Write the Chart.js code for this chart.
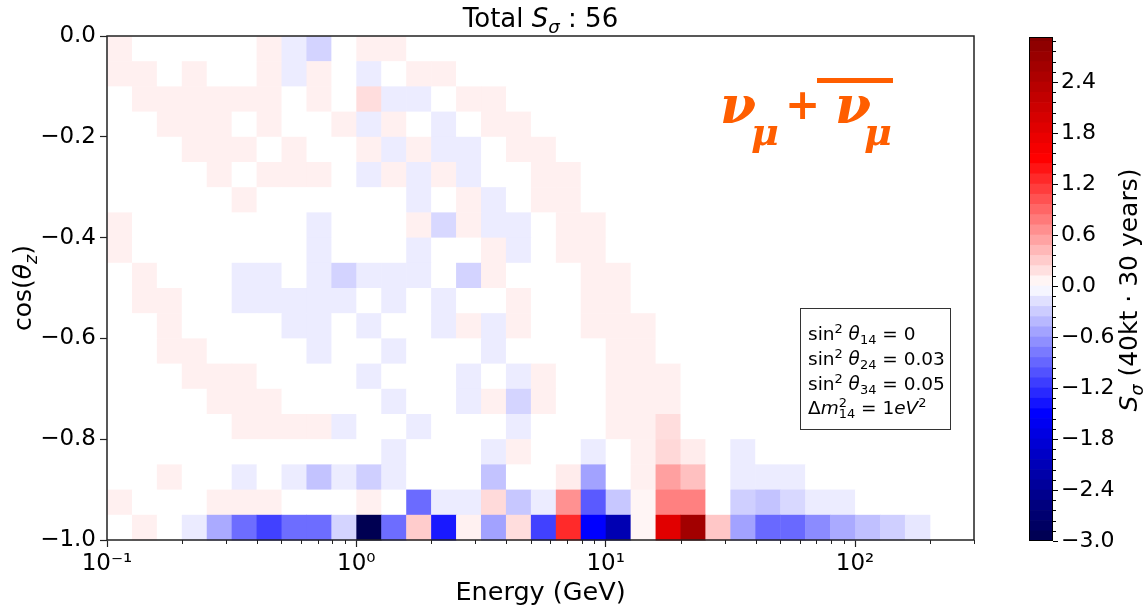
<!DOCTYPE html>
<html>
<head>
<meta charset="utf-8">
<script src="https://cdn.jsdelivr.net/npm/chart.js@4.4.0/dist/chart.umd.min.js"></script>
<style>
  html, body { margin: 0; padding: 0; background: #fff; }
  #wrap { position: relative; width: 1148px; height: 608px; }
  #c1 { position: absolute; left: 0; top: 0; }
  #c2 { position: absolute; left: 990px; top: 0; }
</style>
</head>
<body>
<div id="wrap">
  <canvas id="c1" width="990" height="608"></canvas>
  <canvas id="c2" width="158" height="608"></canvas>
</div>
<script>
// Bin edges (energy in GeV, log bins) and cos(theta_z) bins
const energyEdges = [0.1, 0.1259, 0.1585, 0.1995, 0.2512, 0.3162, 0.3981, 0.5012, 0.631, 0.7943,
  1.0, 1.259, 1.585, 1.995, 2.512, 3.162, 3.981, 5.012, 6.31, 7.943,
  10, 12.59, 15.85, 19.95, 25.12, 31.62, 39.81, 50.12, 63.1, 79.43,
  100, 125.9, 158.5, 199.5];
const cosEdges = [0, -0.05, -0.1, -0.15, -0.2, -0.25, -0.3, -0.35, -0.4, -0.45, -0.5,
  -0.55, -0.6, -0.65, -0.7, -0.75, -0.8, -0.85, -0.9, -0.95, -1.0];

// S_sigma per cell, one array per cos row (top row first), one value per energy bin
const row00 = [0.09,0,0,0,0,0,0.09,-0.11,-0.26,0,0.09,0.09,0,0,0,0,0,0,0,0,0,0,0,0,0,0,0,0,0,0,0,0,0];
const row01 = [0.09,0.09,0,0.09,0,0,0.09,-0.11,0.09,0,-0.11,0,0.09,0.09,0,0,0,0,0,0,0,0,0,0,0,0,0,0,0,0,0,0,0];
const row02 = [0,0.09,0.09,0.09,0.09,0.09,0.09,0,0.09,0,0.2,-0.11,-0.11,0,0.09,0.09,0,0,0,0,0,0,0,0,0,0,0,0,0,0,0,0,0];
const row03 = [0,0,0.09,0.09,0.09,0,0.09,0,0,0.09,-0.11,0.09,0,-0.11,0,0.09,0.09,0,0,0,0,0,0,0,0,0,0,0,0,0,0,0,0];
const row04 = [0,0,0,0.09,0.09,0.09,0,0.09,0,0,0.09,-0.11,0.09,-0.11,-0.11,0,0.09,0.09,0,0,0,0,0,0,0,0,0,0,0,0,0,0,0];
const row05 = [0,0,0,0,0.09,0,0.09,0.09,0.09,0,-0.11,0.09,-0.11,0.09,-0.11,0,0,0.09,0.09,0,0,0,0,0,0,0,0,0,0,0,0,0,0];
const row06 = [0,0,0,0,0,0.09,0,0,0,0,0,0,-0.11,0,0.09,-0.11,0,0.09,0.09,0,0,0,0,0,0,0,0,0,0,0,0,0,0];
const row07 = [0.09,0,0,0,0,0,0,0,-0.11,0,0,0,0.09,-0.23,0.09,-0.11,-0.11,0,0.09,0.09,0,0,0,0,0,0,0,0,0,0,0,0,0];
const row08 = [0.09,0,0,0,0,0,0,0,-0.11,0,0,0,-0.11,0,0,0.09,-0.11,0,0.09,0.09,0,0,0,0,0,0,0,0,0,0,0,0,0];
const row09 = [0,0.09,0,0,0,-0.11,-0.11,0,-0.11,-0.26,-0.11,-0.11,-0.11,0,-0.26,0.09,0,0,0,0.09,0.09,0,0,0,0,0,0,0,0,0,0,0,0];
const row10 = [0,0.09,0.09,0,0,-0.11,-0.11,-0.11,-0.11,-0.11,0,-0.11,0,-0.11,0,0,0.09,0,0,0.09,0.09,0,0,0,0,0,0,0,0,0,0,0,0];
const row11 = [0,0,0.09,0,0,0,0,-0.11,-0.11,0,-0.11,0,0,-0.11,0.09,-0.11,0.09,0,0,0.09,0.09,0.09,0,0,0,0,0,0,0,0,0,0,0];
const row12 = [0,0,0.09,0.09,0,0,0,0,-0.11,0,0,-0.11,0,0,0,-0.11,0,0,0,0,0.09,0.09,0,0,0,0,0,0,0,0,0,0,0];
const row13 = [0,0,0,0.09,0.09,0.09,0,0,0,0,-0.11,0,0,0,-0.11,0,-0.11,0.09,0,0,0.09,0.09,0.09,0,0,0,0,0,0,0,0,0,0];
const row14 = [0,0,0,0,0.09,0.09,0.09,0,0,0,0,-0.11,0,0,-0.11,0.09,-0.25,0.09,0,0,0.09,0.09,0.09,0,0,0,0,0,0,0,0,0,0];
const row15 = [0,0,0,0,0,0.09,0.09,0.09,0.09,-0.11,0,0,-0.11,0,0,0,-0.11,0,0,0,0.09,0.09,0.2,0,0,0,0,0,0,0,0,0,0];
const row16 = [0,0,0,0,0,0,0,0,0,0,0,-0.11,0,0,0,-0.11,0.09,0,0,-0.11,0,0.09,0.23,0.11,0,-0.11,0,0,0,0,0,0,0];
const row17 = [0,0,0.09,0,0,-0.11,0,-0.11,-0.35,-0.11,-0.28,-0.11,0,0,0,-0.35,0,0,0.11,-0.55,0,0.09,0.56,0.37,0,-0.11,-0.11,-0.11,0,0,0,0,0];
const row18 = [0.09,0,0,0,0.09,0.09,0.09,0,0,0,0.09,0,-0.87,-0.11,-0.11,0.22,-0.33,-0.11,0.65,-0.97,-0.33,0.06,0.75,0.75,0,-0.28,-0.35,-0.23,-0.11,-0.11,0,0,0];
const row19 = [0,0.09,0,-0.12,-0.5,-0.86,-1.12,-0.86,-0.86,-0.25,-2.95,-0.86,0.3,-1.35,0.08,-0.55,0.2,-1.12,1.25,-1.5,-2.15,0.06,1.85,2.6,0.33,-0.55,-0.88,-0.88,-0.68,-0.5,-0.37,-0.28,-0.14];
const grid = [row00, row01, row02, row03, row04, row05, row06, row07, row08, row09,
  row10, row11, row12, row13, row14, row15, row16, row17, row18, row19];

// Axis ticks
const xTickValues = [0.1, 1, 10, 100];
const xTickLabels = ['10\u207B\u00B9', '10\u2070', '10\u00B9', '10\u00B2'];
const xMinorValues = [0.2, 0.3, 0.4, 0.5, 0.6, 0.7, 0.8, 0.9, 2, 3, 4, 5, 6, 7, 8, 9,
  20, 30, 40, 50, 60, 70, 80, 90, 200, 300];
const cbarTicks = [-3.0, -2.4, -1.8, -1.2, -0.6, 0.0, 0.6, 1.2, 1.8, 2.4];
const cbarStep = 0.12;
const CMIN = -3, CMAX = 3;

const FONT = '"DejaVu Sans", sans-serif';
Chart.defaults.font.family = FONT;
Chart.defaults.color = '#000';

// matplotlib "seismic" colormap
function seismic(v) {
  let t = (v - CMIN) / (CMAX - CMIN);
  t = Math.max(0, Math.min(1, t));
  let r, g, b;
  if (t < 0.25) { const s = t / 0.25; r = 0; g = 0; b = 0.3 + 0.7 * s; }
  else if (t < 0.5) { const s = (t - 0.25) / 0.25; r = s; g = s; b = 1; }
  else if (t < 0.75) { const s = (t - 0.5) / 0.25; r = 1; g = 1 - s; b = 1 - s; }
  else { const s = (t - 0.75) / 0.25; r = 1 - 0.5 * s; g = 0; b = 0; }
  return 'rgb(' + Math.round(r * 255) + ',' + Math.round(g * 255) + ',' + Math.round(b * 255) + ')';
}

// text with italic / sub / superscript pieces
function drawRich(ctx, parts, x, y, size, align, rot) {
  ctx.save();
  ctx.translate(x, y);
  if (rot) ctx.rotate(rot);
  const fontFor = p => {
    const sz = (p.sub || p.sup) ? size * 0.7 : size;
    return (p.it ? 'italic ' : '') + sz + 'px ' + FONT;
  };
  let w = 0;
  const widths = parts.map(p => {
    ctx.font = fontFor(p);
    const pw = p.stay ? 0 : ctx.measureText(p.t).width;
    w += pw;
    return pw;
  });
  let cx = align === 'center' ? -w / 2 : (align === 'right' ? -w : 0);
  ctx.fillStyle = '#000';
  ctx.textAlign = 'left';
  ctx.textBaseline = 'alphabetic';
  parts.forEach((p, i) => {
    ctx.font = fontFor(p);
    const dy = p.sub ? size * 0.24 : (p.sup ? -size * 0.4 : 0);
    ctx.fillText(p.t, cx, dy);
    cx += widths[i];
  });
  ctx.restore();
}

const heatPlugin = {
  id: 'heat',
  beforeDatasetsDraw(chart) {
    const ctx = chart.ctx, xs = chart.scales.x, ys = chart.scales.y;
    ctx.save();
    for (let r = 0; r < grid.length; r++) {
      const y0 = ys.getPixelForValue(cosEdges[r]);
      const y1 = ys.getPixelForValue(cosEdges[r + 1]);
      for (let c = 0; c < grid[r].length; c++) {
        const x0 = xs.getPixelForValue(energyEdges[c]);
        const x1 = xs.getPixelForValue(energyEdges[c + 1]);
        ctx.fillStyle = seismic(grid[r][c]);
        ctx.fillRect(x0, y0, x1 - x0 + 0.5, y1 - y0 + 0.5);
      }
    }
    ctx.restore();
  }
};

const decorPlugin = {
  id: 'decor',
  afterDraw(chart) {
    const ctx = chart.ctx, a = chart.chartArea, xs = chart.scales.x;
    ctx.save();
    // frame
    ctx.strokeStyle = '#222';
    ctx.lineWidth = 1.5;
    ctx.strokeRect(a.left, a.top, a.right - a.left, a.bottom - a.top);
    // minor ticks on log axis
    ctx.lineWidth = 1;
    ctx.beginPath();
    xMinorValues.forEach(v => {
      const px = Math.round(xs.getPixelForValue(v)) + 0.5;
      ctx.moveTo(px, a.bottom);
      ctx.lineTo(px, a.bottom + 4);
    });
    ctx.stroke();

    // titles
    const cx = (a.left + a.right) / 2;
    drawRich(ctx, [{ t: 'Total ' }, { t: 'S', it: 1 }, { t: '\u03C3', it: 1, sub: 1 }, { t: ' : 56' }], cx, 27, 26, 'center');
    drawRich(ctx, [{ t: 'Energy (GeV)' }], cx, 600, 25.5, 'center');
    drawRich(ctx, [{ t: 'cos(' }, { t: '\u03B8', it: 1 }, { t: 'z', it: 1, sub: 1 }, { t: ')' }], 31, (a.top + a.bottom) / 2, 25, 'center', -Math.PI / 2);

    // parameter box
    ctx.fillStyle = '#fff';
    ctx.fillRect(800.5, 308.5, 150, 121);
    ctx.strokeStyle = '#333';
    ctx.lineWidth = 1;
    ctx.strokeRect(800.5, 308.5, 150, 121);
    const fs = 18.5;
    drawRich(ctx, [{ t: 'sin' }, { t: '2', sup: 1 }, { t: ' ' }, { t: '\u03B8', it: 1 }, { t: '14', sub: 1 }, { t: ' = 0' }], 808, 340, fs, 'left');
    drawRich(ctx, [{ t: 'sin' }, { t: '2', sup: 1 }, { t: ' ' }, { t: '\u03B8', it: 1 }, { t: '24', sub: 1 }, { t: ' = 0.03' }], 808, 365, fs, 'left');
    drawRich(ctx, [{ t: 'sin' }, { t: '2', sup: 1 }, { t: ' ' }, { t: '\u03B8', it: 1 }, { t: '34', sub: 1 }, { t: ' = 0.05' }], 808, 390, fs, 'left');
    drawRich(ctx, [{ t: '\u0394' }, { t: 'm', it: 1 }, { t: '2', sup: 1, stay: 1 }, { t: '14', sub: 1 }, { t: ' = 1' }, { t: 'eV', it: 1 }, { t: '2', sup: 1 }], 808, 414, fs, 'left');

    // nu_mu + nu_mu-bar label
    ctx.fillStyle = '#ff5e00';
    ctx.textAlign = 'left';
    ctx.textBaseline = 'alphabetic';
    ctx.font = 'italic bold 52px "DejaVu Serif"';
    ctx.fillText('\u03BD', 720, 123);
    ctx.fillText('\u03BD', 835, 123);
    ctx.font = 'italic bold 38px "DejaVu Serif"';
    ctx.fillText('\u03BC', 751, 145);
    ctx.fillText('\u03BC', 864, 145);
    ctx.font = 'bold 42px ' + FONT;
    ctx.fillText('+', 785, 119);
    ctx.fillRect(817, 78, 76, 5);
    ctx.restore();
  }
};

new Chart(document.getElementById('c1'), {
  type: 'scatter',
  data: { datasets: [{ data: [] }] },
  options: {
    responsive: false,
    animation: false,
    layout: { padding: { left: 0, top: 36, right: 16, bottom: 0 } },
    plugins: { legend: { display: false }, tooltip: { enabled: false } },
    scales: {
      x: {
        type: 'logarithmic',
        min: 0.1,
        max: 300,
        afterBuildTicks: s => { s.ticks = xTickValues.map(v => ({ value: v })); },
        afterFit: s => { s.height = 68; },
        ticks: {
          callback: (v, i) => xTickLabels[i],
          font: { size: 23 },
          color: '#000',
          padding: 3,
          maxRotation: 0,
          autoSkip: false
        },
        grid: { drawOnChartArea: false, tickLength: 7, tickColor: '#222', tickWidth: 1.2 },
        border: { display: false }
      },
      y: {
        type: 'linear',
        min: -1,
        max: 0,
        afterFit: s => { s.width = 107; },
        ticks: {
          stepSize: 0.2,
          callback: v => (Math.abs(v) < 1e-9 ? '0.0' : v.toFixed(1).replace('-', '\u2212')),
          font: { size: 23 },
          color: '#000',
          padding: 4
        },
        grid: { drawOnChartArea: false, tickLength: 7, tickColor: '#222', tickWidth: 1.2 },
        border: { display: false }
      }
    }
  },
  plugins: [heatPlugin, decorPlugin]
});

// Colour bar, drawn as overlapping floating bars on its own linear axis
const cbarDatasets = [];
for (let lo = CMIN; lo < CMAX - 1e-9; lo += cbarStep) {
  const hi = lo + cbarStep;
  cbarDatasets.push({
    data: [[lo, hi]],
    backgroundColor: seismic((lo + hi) / 2),
    borderWidth: 0,
    barPercentage: 1,
    categoryPercentage: 1,
    grouped: false
  });
}

const cbarDecor = {
  id: 'cbarDecor',
  afterDraw(chart) {
    const ctx = chart.ctx, a = chart.chartArea, ys = chart.scales.y;
    ctx.save();
    ctx.strokeStyle = '#000';
    ctx.lineWidth = 1;
    ctx.strokeRect(a.left + 0.5, a.top + 0.5, a.right - a.left - 1, a.bottom - a.top - 1);
    ctx.beginPath();
    for (let v = CMIN; v < ys.max; v += cbarStep) {
      if (cbarTicks.some(t => Math.abs(t - v) < 1e-6)) continue;
      const py = Math.round(ys.getPixelForValue(v)) + 0.5;
      ctx.moveTo(a.right, py);
      ctx.lineTo(a.right + 3, py);
    }
    ctx.stroke();
    drawRich(ctx, [{ t: 'S', it: 1 }, { t: '\u03C3', it: 1, sub: 1 }, { t: ' (40kt \u00B7 30 years)' }], 147, 290, 25, 'center', -Math.PI / 2);
    ctx.restore();
  }
};

new Chart(document.getElementById('c2'), {
  type: 'bar',
  data: { labels: [''], datasets: cbarDatasets },
  options: {
    responsive: false,
    animation: false,
    layout: { padding: { left: 39, top: 37, right: 0, bottom: 67 } },
    plugins: { legend: { display: false }, tooltip: { enabled: false } },
    scales: {
      x: { display: false },
      y: {
        position: 'right',
        min: -3,
        max: 2.93,
        afterBuildTicks: s => { s.ticks = cbarTicks.map(v => ({ value: v })); },
        afterFit: s => { s.width = 95; },
        ticks: {
          callback: v => (Math.abs(v) < 1e-9 ? '0.0' : v.toFixed(1).replace('-', '\u2212')),
          font: { size: 22 },
          color: '#000',
          padding: 3
        },
        grid: { drawOnChartArea: false, tickLength: 5, tickColor: '#000', tickWidth: 1 },
        border: { display: false }
      }
    }
  },
  plugins: [cbarDecor]
});
</script>
</body>
</html>
